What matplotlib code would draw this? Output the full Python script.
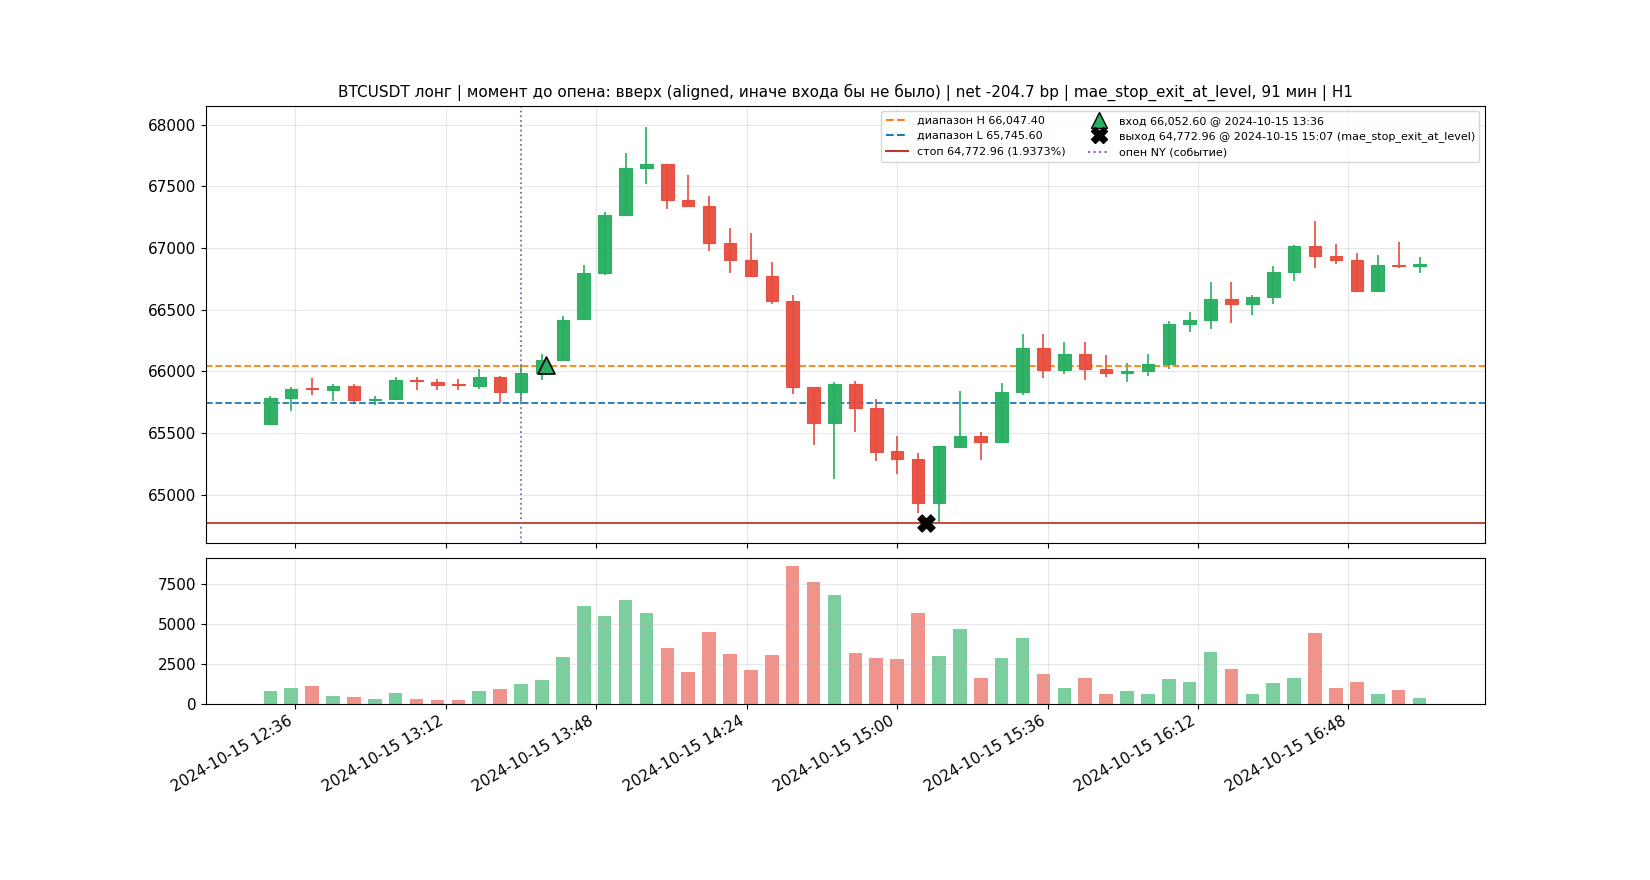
import pandas as pd
import matplotlib
matplotlib.use("Agg")
import matplotlib.pyplot as plt
import matplotlib.dates as mdates
from matplotlib.lines import Line2D

plt.rcParams["font.size"] = 11

# 5-minute candles, 12:30 .. 17:05
times = pd.date_range("2024-10-15 12:30", periods=56, freq="5min")
opens = [65570, 65787, 65866, 65852, 65884, 65771, 65779, 65930, 65917, 65893,
         65884, 65957, 65836, 65990, 66095, 66427, 66798, 67267, 67647, 67680,
         67389, 67340, 67041, 66903, 66774, 66569, 65874, 65578, 65901, 65707,
         65351, 65287, 64931, 65389, 65475, 65429, 65836, 66192, 66014, 66144,
         66022, 65987, 66003, 66063, 66386, 66419, 66588, 66548, 66604, 66806,
         67017, 66936, 66903, 66653, 66862, 66855]
closes = [65787, 65860, 65858, 65884, 65771, 65777, 65928, 65921, 65893, 65890,
          65957, 65836, 65990, 66095, 66420, 66798, 67267, 67647, 67680, 67389,
          67340, 67041, 66903, 66774, 66572, 65874, 65578, 65901, 65707, 65349,
          65287, 64931, 65394, 65475, 65429, 65836, 66192, 66014, 66144, 66020,
          65987, 66003, 66063, 66386, 66419, 66588, 66548, 66604, 66806, 67017,
          66936, 66903, 66653, 66860, 66855, 66870]
highs = [65800, 65871, 65944, 65895, 65895, 65804, 65952, 65952, 65935, 65935,
         66016, 65963, 66049, 66138, 66453, 66863, 67290, 67771, 67981, 67680,
         67593, 67423, 67165, 67124, 66890, 66623, 65874, 65912, 65920, 65774,
         65475, 65338, 65394, 65842, 65508, 65904, 66300, 66300, 66235, 66235,
         66130, 66071, 66143, 66405, 66478, 66728, 66728, 66623, 66858, 67027,
         67222, 67036, 66963, 66940, 67050, 66930]
lows = [65565, 65680, 65809, 65760, 65739, 65728, 65771, 65852, 65852, 65847,
        65855, 65747, 65739, 65933, 66095, 66420, 66782, 67256, 67523, 67313,
        67329, 66973, 66801, 66763, 66548, 65820, 65402, 65128, 65510, 65273,
        65171, 64850, 64780, 65381, 65281, 65421, 65809, 65947, 65982, 65928,
        65955, 65910, 65963, 66022, 66319, 66343, 66391, 66456, 66545, 66736,
        66836, 66871, 66648, 66653, 66840, 66800]
volumes = [800, 1000, 1100, 500, 450, 300, 700, 300, 250, 250,
           800, 950, 1250, 1500, 2900, 6100, 5500, 6500, 5700, 3500,
           2000, 4500, 3100, 2100, 3050, 8600, 7600, 6800, 3200, 2850,
           2800, 5700, 3000, 4700, 1650, 2850, 4100, 1900, 1000, 1600,
           650, 800, 650, 1550, 1350, 3250, 2200, 650, 1300, 1600,
           4400, 1000, 1350, 650, 850, 400]

range_h = 66047.40
range_l = 65745.60
stop = 64772.96
entry_price, entry_time = 66052.60, pd.Timestamp("2024-10-15 13:36")
exit_price, exit_time = 64772.96, pd.Timestamp("2024-10-15 15:07")
ny_open = pd.Timestamp("2024-10-15 13:30")
tick_times = pd.date_range("2024-10-15 12:36", periods=8, freq="36min")

GREEN = "#27ae60"
RED = "#e74c3c"

fig, (ax, axv) = plt.subplots(2, 1, figsize=(16.5, 8.8), dpi=100, sharex=True,
                              gridspec_kw={"height_ratios": [3, 1], "hspace": 0.05})

x = mdates.date2num(times)
w = 5 / 1440 * 0.6
for xi, o, c, h, l in zip(x, opens, closes, highs, lows):
    col = GREEN if c >= o else RED
    ax.vlines(xi, l, h, color=col, linewidth=1.2, zorder=2)
    ax.bar(xi, abs(c - o) if abs(c - o) > 8 else 8, bottom=min(o, c) if abs(c - o) > 8 else (o + c) / 2 - 4,
           width=w, color=col, edgecolor=col, linewidth=0.8, zorder=3, alpha=0.95)

ax.axhline(range_h, color="tab:orange", linestyle="--", linewidth=1.3)
ax.axhline(range_l, color="tab:blue", linestyle="--", linewidth=1.3)
ax.axhline(stop, color="#c0392b", linewidth=1.3)
ax.axvline(mdates.date2num(ny_open), color="#9b59b6", linestyle=":", linewidth=1.3)
ax.scatter([mdates.date2num(entry_time)], [entry_price], marker="^", s=150,
           color=GREEN, edgecolor="black", linewidth=1.2, zorder=5)
ax.scatter([mdates.date2num(exit_time)], [exit_price], marker="X", s=150,
           color="black", zorder=5)

handles = [
    Line2D([], [], color="tab:orange", linestyle="--", label=f"диапазон H {range_h:,.2f}"),
    Line2D([], [], color="tab:blue", linestyle="--", label=f"диапазон L {range_l:,.2f}"),
    Line2D([], [], color="#c0392b", label=f"стоп {stop:,.2f} (1.9373%)"),
    Line2D([], [], marker="^", linestyle="", markersize=11, color=GREEN, markeredgecolor="black",
           label=f"вход {entry_price:,.2f} @ 2024-10-15 13:36"),
    Line2D([], [], marker="X", linestyle="", markersize=11, color="black",
           label=f"выход {exit_price:,.2f} @ 2024-10-15 15:07 (mae_stop_exit_at_level)"),
    Line2D([], [], color="#9b59b6", linestyle=":", label="опен NY (событие)"),
]
ax.legend(handles=handles, loc="upper right", ncol=2, fontsize=8)
ax.set_ylim(64605, 68155)
ax.grid(True, alpha=0.3)
ax.set_title("BTCUSDT лонг | момент до опена: вверх (aligned, иначе входа бы не было) | "
             "net -204.7 bp | mae_stop_exit_at_level, 91 мин | H1", fontsize=11)

vcols = [GREEN if c >= o else RED for o, c in zip(opens, closes)]
axv.bar(x, volumes, width=5 / 1440 * 0.65, color=vcols, alpha=0.6)
axv.grid(True, alpha=0.3)
axv.set_ylim(0, 9100)
axv.set_yticks([0, 2500, 5000, 7500])

axv.set_xlim(mdates.date2num(pd.Timestamp("2024-10-15 12:14:40")),
             mdates.date2num(pd.Timestamp("2024-10-15 17:20:40")))
axv.set_xticks(mdates.date2num(tick_times))
axv.xaxis.set_major_formatter(mdates.DateFormatter("%Y-%m-%d %H:%M"))
fig.autofmt_xdate()
fig.subplots_adjust(left=0.125, right=0.9, top=0.88, bottom=0.2)
fig.savefig("out.png")
